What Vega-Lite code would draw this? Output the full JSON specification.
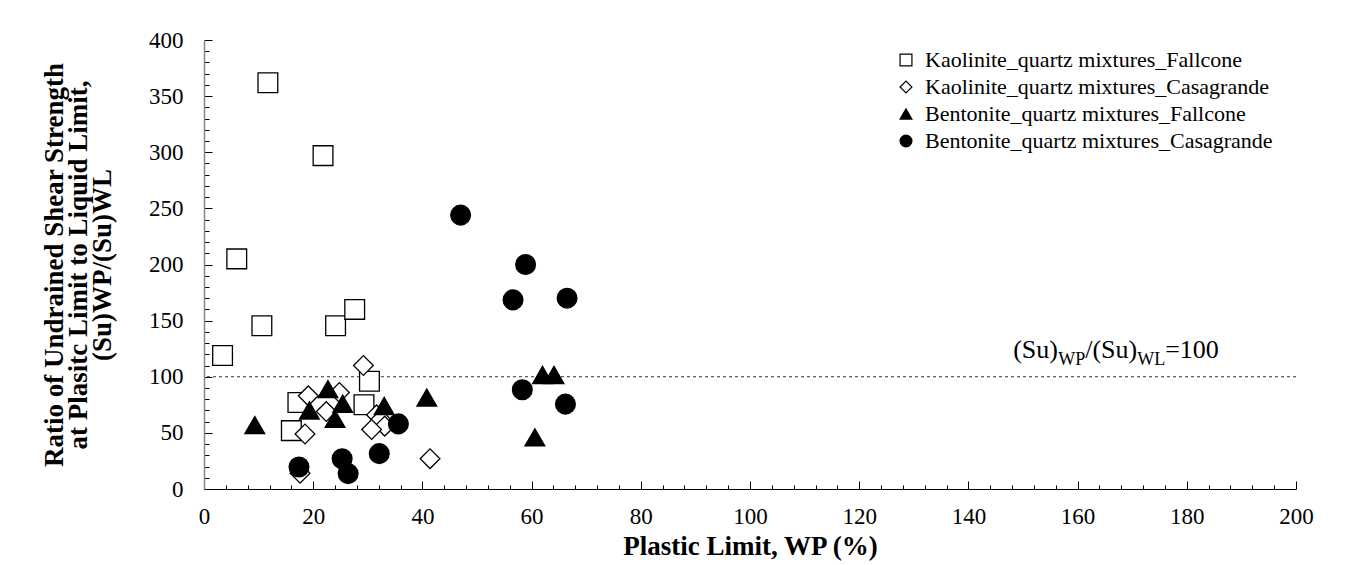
{
  "$schema": "https://vega.github.io/schema/vega-lite/v6.json",
  "width": 1092,
  "height": 449,
  "autosize": "none",
  "padding": {"left": 204, "top": 40, "right": 61, "bottom": 76},
  "background": "white",
  "config": {"font": "Liberation Serif", "view": {"stroke": null}},
  "resolve": {"axis": {"x": "independent", "y": "independent"}},
  "layer": [
    {
      "data": {"values": [{}]},
      "mark": {"type": "rule", "strokeDash": [3, 3], "color": "#333333", "strokeWidth": 1},
      "encoding": {"y": {"datum": 100, "type": "quantitative", "axis": null}}
    },
    {
      "data": {"values": [{}]},
      "mark": {"type": "point", "opacity": 0},
      "encoding": {
        "x": {
          "datum": 0, "type": "quantitative",
          "axis": {
            "orient": "top", "offset": -449,
            "title": null, "domain": false, "labels": false, "grid": false,
            "values": [0, 20, 40, 60, 80, 100, 120, 140, 160, 180, 200],
            "tickSize": 8, "tickColor": "black", "tickWidth": 1
          }
        },
        "y": {
          "datum": 0, "type": "quantitative",
          "axis": {
            "orient": "right", "offset": -1092,
            "title": null, "domain": false, "labels": false, "grid": false,
            "values": [0, 50, 100, 150, 200, 250, 300, 350, 400],
            "tickSize": 8, "tickColor": "black", "tickWidth": 1
          }
        }
      }
    },
    {
      "data": {"values": [{}]},
      "mark": {"type": "point", "opacity": 0},
      "encoding": {
        "x": {
          "datum": 0, "type": "quantitative",
          "axis": {
            "orient": "top", "offset": -449,
            "title": null, "domain": false, "labels": false, "grid": false,
            "values": [4,8,12,16,24,28,32,36,44,48,52,56,64,68,72,76,84,88,92,96,104,108,112,116,124,128,132,136,144,148,152,156,164,168,172,176,184,188,192,196],
            "tickSize": 4, "tickColor": "black", "tickWidth": 1
          }
        },
        "y": {
          "datum": 0, "type": "quantitative",
          "axis": {
            "orient": "right", "offset": -1092,
            "title": null, "domain": false, "labels": false, "grid": false,
            "values": [10,20,30,40,60,70,80,90,110,120,130,140,160,170,180,190,210,220,230,240,260,270,280,290,310,320,330,340,360,370,380,390],
            "tickSize": 5, "tickColor": "black", "tickWidth": 1
          }
        }
      }
    },
    {
      "data": {
        "values": [
          {"series": "Kaolinite_quartz mixtures_Fallcone", "wp": 11.7, "ratio": 362},
          {"series": "Kaolinite_quartz mixtures_Fallcone", "wp": 21.8, "ratio": 297},
          {"series": "Kaolinite_quartz mixtures_Fallcone", "wp": 6.0, "ratio": 205},
          {"series": "Kaolinite_quartz mixtures_Fallcone", "wp": 10.6, "ratio": 145.5},
          {"series": "Kaolinite_quartz mixtures_Fallcone", "wp": 24.1, "ratio": 145.5},
          {"series": "Kaolinite_quartz mixtures_Fallcone", "wp": 27.6, "ratio": 160},
          {"series": "Kaolinite_quartz mixtures_Fallcone", "wp": 3.4, "ratio": 119},
          {"series": "Kaolinite_quartz mixtures_Fallcone", "wp": 30.3, "ratio": 96},
          {"series": "Kaolinite_quartz mixtures_Fallcone", "wp": 17.2, "ratio": 77},
          {"series": "Kaolinite_quartz mixtures_Fallcone", "wp": 29.3, "ratio": 75},
          {"series": "Kaolinite_quartz mixtures_Fallcone", "wp": 16.0, "ratio": 52},
          {"series": "Kaolinite_quartz mixtures_Casagrande", "wp": 29.2, "ratio": 110},
          {"series": "Kaolinite_quartz mixtures_Casagrande", "wp": 24.8, "ratio": 86},
          {"series": "Kaolinite_quartz mixtures_Casagrande", "wp": 19.1, "ratio": 83},
          {"series": "Kaolinite_quartz mixtures_Casagrande", "wp": 22.4, "ratio": 69},
          {"series": "Kaolinite_quartz mixtures_Casagrande", "wp": 31.6, "ratio": 66},
          {"series": "Kaolinite_quartz mixtures_Casagrande", "wp": 32.4, "ratio": 62},
          {"series": "Kaolinite_quartz mixtures_Casagrande", "wp": 33.1, "ratio": 56},
          {"series": "Kaolinite_quartz mixtures_Casagrande", "wp": 30.7, "ratio": 53},
          {"series": "Kaolinite_quartz mixtures_Casagrande", "wp": 18.5, "ratio": 49},
          {"series": "Kaolinite_quartz mixtures_Casagrande", "wp": 17.6, "ratio": 14},
          {"series": "Kaolinite_quartz mixtures_Casagrande", "wp": 41.4, "ratio": 27},
          {"series": "Bentonite_quartz mixtures_Fallcone", "wp": 22.7, "ratio": 89},
          {"series": "Bentonite_quartz mixtures_Fallcone", "wp": 25.4, "ratio": 76},
          {"series": "Bentonite_quartz mixtures_Fallcone", "wp": 19.3, "ratio": 70},
          {"series": "Bentonite_quartz mixtures_Fallcone", "wp": 24.0, "ratio": 62.5},
          {"series": "Bentonite_quartz mixtures_Fallcone", "wp": 33.0, "ratio": 74},
          {"series": "Bentonite_quartz mixtures_Fallcone", "wp": 40.8, "ratio": 81.5},
          {"series": "Bentonite_quartz mixtures_Fallcone", "wp": 9.3, "ratio": 57},
          {"series": "Bentonite_quartz mixtures_Fallcone", "wp": 62.0, "ratio": 101.6},
          {"series": "Bentonite_quartz mixtures_Fallcone", "wp": 64.1, "ratio": 101.6},
          {"series": "Bentonite_quartz mixtures_Fallcone", "wp": 60.6, "ratio": 46},
          {"series": "Bentonite_quartz mixtures_Casagrande", "wp": 47.0, "ratio": 244},
          {"series": "Bentonite_quartz mixtures_Casagrande", "wp": 58.9, "ratio": 200},
          {"series": "Bentonite_quartz mixtures_Casagrande", "wp": 56.6, "ratio": 168.5},
          {"series": "Bentonite_quartz mixtures_Casagrande", "wp": 66.5, "ratio": 170},
          {"series": "Bentonite_quartz mixtures_Casagrande", "wp": 58.3, "ratio": 88.4},
          {"series": "Bentonite_quartz mixtures_Casagrande", "wp": 66.2, "ratio": 75.6},
          {"series": "Bentonite_quartz mixtures_Casagrande", "wp": 35.6, "ratio": 58},
          {"series": "Bentonite_quartz mixtures_Casagrande", "wp": 17.4, "ratio": 19.6},
          {"series": "Bentonite_quartz mixtures_Casagrande", "wp": 25.3, "ratio": 27},
          {"series": "Bentonite_quartz mixtures_Casagrande", "wp": 26.4, "ratio": 13.7},
          {"series": "Bentonite_quartz mixtures_Casagrande", "wp": 32.1, "ratio": 31.5}
        ]
      },
      "mark": {"type": "point", "filled": false, "strokeWidth": 1.3, "opacity": 1, "size": 390},
      "encoding": {
        "x": {
          "field": "wp", "type": "quantitative",
          "scale": {"domain": [0, 200], "nice": false, "zero": true},
          "axis": {
            "orient": "bottom",
            "title": "Plastic Limit, WP (%)",
            "titleFontSize": 27, "titleFontWeight": "bold", "titleColor": "black", "titlePadding": 5,
            "values": [0, 20, 40, 60, 80, 100, 120, 140, 160, 180, 200],
            "ticks": false,
            "labelPadding": 16,
            "labelFontSize": 23, "labelColor": "black", "labelFlush": false, "labelOverlap": false,
            "grid": false, "domainColor": "black", "domainWidth": 1
          }
        },
        "y": {
          "field": "ratio", "type": "quantitative",
          "scale": {"domain": [0, 400], "nice": false},
          "axis": {
            "orient": "left",
            "title": ["Ratio of Undrained Shear Strength", "at Plasitc Limit to Liquid Limit,", "(Su)WP/(Su)WL"],
            "titleFontSize": 27, "titleFontWeight": "bold", "titleColor": "black", "titleLineHeight": 24, "titlePadding": 32,
            "values": [0, 50, 100, 150, 200, 250, 300, 350, 400],
            "ticks": false,
            "labelPadding": 21,
            "labelFontSize": 23, "labelColor": "black", "labelFlush": false, "labelOverlap": false,
            "grid": false, "domainColor": "#888888", "domainWidth": 1.5
          }
        },
        "shape": {
          "field": "series", "type": "nominal",
          "scale": {
            "domain": ["Kaolinite_quartz mixtures_Fallcone", "Kaolinite_quartz mixtures_Casagrande", "Bentonite_quartz mixtures_Fallcone", "Bentonite_quartz mixtures_Casagrande"],
            "range": ["square", "diamond", "triangle-up", "circle"]
          },
          "legend": {
            "title": null, "orient": "none", "legendX": 691, "legendY": 9,
            "labelFontSize": 22, "labelColor": "black", "labelLimit": 500,
            "symbolSize": 140, "symbolStrokeWidth": 1.2,
            "rowPadding": 5, "labelOffset": 8
          }
        },
        "fill": {
          "field": "series", "type": "nominal",
          "scale": {
            "domain": ["Kaolinite_quartz mixtures_Fallcone", "Kaolinite_quartz mixtures_Casagrande", "Bentonite_quartz mixtures_Fallcone", "Bentonite_quartz mixtures_Casagrande"],
            "range": ["white", "white", "black", "black"]
          },
          "legend": {
            "title": null, "orient": "none", "legendX": 691, "legendY": 9,
            "labelFontSize": 22, "labelColor": "black", "labelLimit": 500,
            "symbolSize": 140, "symbolStrokeWidth": 1.2,
            "rowPadding": 5, "labelOffset": 8
          }
        },
        "stroke": {
          "field": "series", "type": "nominal",
          "scale": {
            "domain": ["Kaolinite_quartz mixtures_Fallcone", "Kaolinite_quartz mixtures_Casagrande", "Bentonite_quartz mixtures_Fallcone", "Bentonite_quartz mixtures_Casagrande"],
            "range": ["black", "black", "black", "black"]
          },
          "legend": {
            "title": null, "orient": "none", "legendX": 691, "legendY": 9,
            "labelFontSize": 22, "labelColor": "black", "labelLimit": 500,
            "symbolSize": 140, "symbolStrokeWidth": 1.2,
            "rowPadding": 5, "labelOffset": 8
          }
        }
      }
    },
    {
      "data": {"values": [{}]},
      "mark": {"type": "text", "text": "(Su)", "align": "left", "baseline": "alphabetic", "fontSize": 26, "color": "black", "dx": 0},
      "encoding": {"x": {"datum": 148.2, "type": "quantitative", "axis": null}, "y": {"datum": 116.7, "type": "quantitative", "axis": null}}
    },
    {
      "data": {"values": [{}]},
      "mark": {"type": "text", "text": "WP", "align": "left", "baseline": "alphabetic", "fontSize": 18, "color": "black", "dx": 45, "dy": 7},
      "encoding": {"x": {"datum": 148.2, "type": "quantitative", "axis": null}, "y": {"datum": 116.7, "type": "quantitative", "axis": null}}
    },
    {
      "data": {"values": [{}]},
      "mark": {"type": "text", "text": "/(Su)", "align": "left", "baseline": "alphabetic", "fontSize": 26, "color": "black", "dx": 72},
      "encoding": {"x": {"datum": 148.2, "type": "quantitative", "axis": null}, "y": {"datum": 116.7, "type": "quantitative", "axis": null}}
    },
    {
      "data": {"values": [{}]},
      "mark": {"type": "text", "text": "WL", "align": "left", "baseline": "alphabetic", "fontSize": 18, "color": "black", "dx": 124, "dy": 7},
      "encoding": {"x": {"datum": 148.2, "type": "quantitative", "axis": null}, "y": {"datum": 116.7, "type": "quantitative", "axis": null}}
    },
    {
      "data": {"values": [{}]},
      "mark": {"type": "text", "text": "=100", "align": "left", "baseline": "alphabetic", "fontSize": 26, "color": "black", "dx": 152},
      "encoding": {"x": {"datum": 148.2, "type": "quantitative", "axis": null}, "y": {"datum": 116.7, "type": "quantitative", "axis": null}}
    }
  ]
}
